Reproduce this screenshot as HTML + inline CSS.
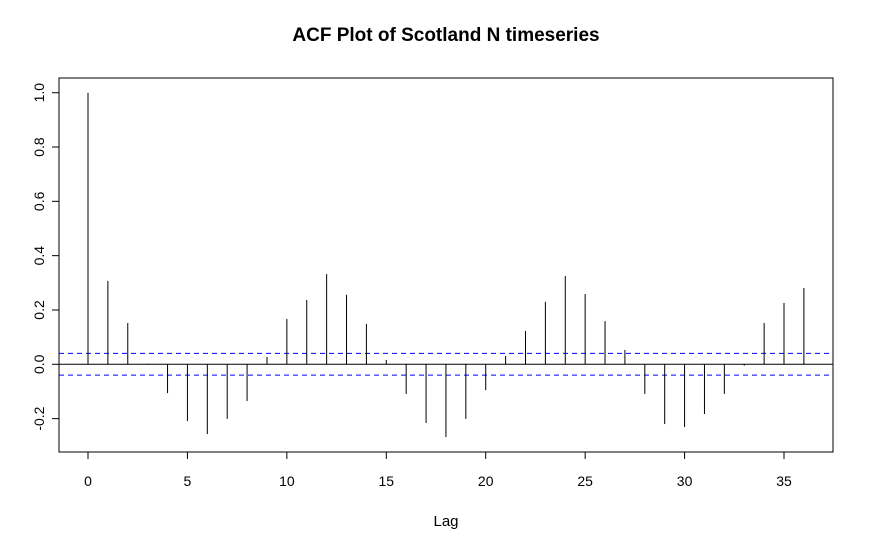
<!DOCTYPE html>
<html><head><meta charset="utf-8"><style>
html,body{margin:0;padding:0;background:#fff;}
svg{display:block;font-family:"Liberation Sans",Arial,sans-serif;}
</style></head><body>
<svg id="chart" width="893" height="550">
<text x="446" y="41" text-anchor="middle" font-size="19" font-weight="bold">ACF Plot of Scotland N timeseries</text>
<rect x="59" y="78" width="774" height="374" fill="none" stroke="#000"/>
<text x="446" y="526" text-anchor="middle" font-size="15">Lag</text>
<text transform="translate(-1,265) rotate(-90)" text-anchor="middle" font-size="15" fill="#00ffff">ACF</text>
<g id="marks"></g>
</svg>
<script>
const lags=[0,1,2,3,4,5,6,7,8,9,10,11,12,13,14,15,16,17,18,19,20,21,22,23,24,25,26,27,28,29,30,31,32,33,34,35,36];
const acfValues=[1.0,0.307,0.152,0.003,-0.106,-0.209,-0.257,-0.201,-0.135,0.027,0.167,0.237,0.332,0.256,0.149,0.016,-0.109,-0.216,-0.268,-0.201,-0.095,0.031,0.123,0.230,0.325,0.259,0.159,0.053,-0.109,-0.220,-0.231,-0.183,-0.109,-0.005,0.152,0.226,0.281];
const xTicks=[0,5,10,15,20,25,30,35];
const yTicks=[-0.2,0.0,0.2,0.4,0.6,0.8,1.0];
const ciBound=0.04;

const NS="http://www.w3.org/2000/svg";
const g=document.getElementById('marks');
const xs=v=>88+v*19.886;
const ys=v=>364.3-v*271.6;
function mk(tag,attrs){const e=document.createElementNS(NS,tag);for(const k in attrs)e.setAttribute(k,attrs[k]);g.appendChild(e);return e;}

let z=mk('line',{x1:59,x2:833,y1:ys(0),y2:ys(0),stroke:'#000'});



[ciBound,-ciBound].forEach((c,i)=>{
  const l=mk('line',{x1:59,x2:833,y1:ys(c),y2:ys(c),stroke:'#0000ff','stroke-dasharray':'5,4'});
  
  
});

lags.forEach((lag,i)=>{
  const l=mk('line',{x1:xs(lag),x2:xs(lag),y1:ys(0),y2:ys(acfValues[i]),stroke:'#000'});
  
  
});

xTicks.forEach(t=>{
  const l=mk('line',{x1:xs(t),x2:xs(t),y1:452,y2:459,stroke:'#000'});
  
  
  const tx=mk('text',{x:xs(t),y:486,'text-anchor':'middle','font-size':'14'});
  tx.textContent=t;
  
  
});
yTicks.forEach(t=>{
  const l=mk('line',{x1:52,x2:59,y1:ys(t),y2:ys(t),stroke:'#000'});
  
  
  const tx=mk('text',{transform:`translate(44,${ys(t)}) rotate(-90)`,'text-anchor':'middle','font-size':'14'});
  tx.textContent=t.toFixed(1);
  
  
});
</script>
</body></html>
